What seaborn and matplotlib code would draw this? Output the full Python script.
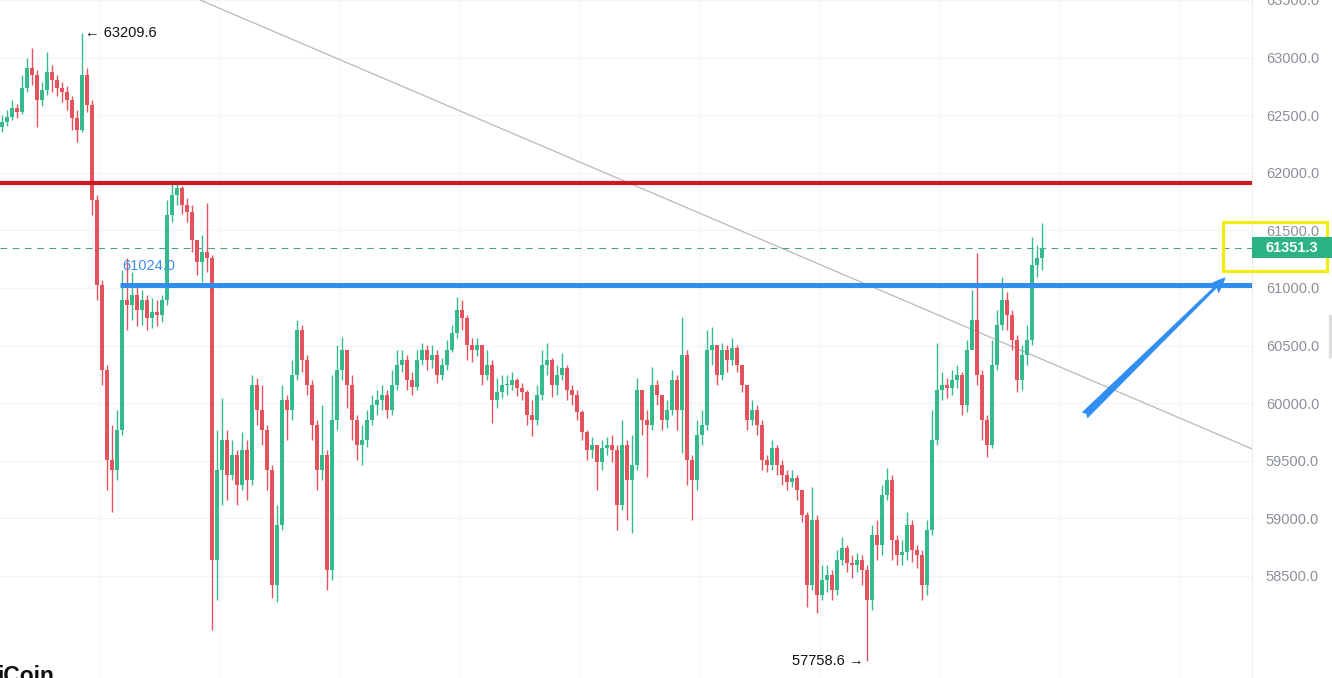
import numpy as np
import pandas as pd
import matplotlib
matplotlib.use("Agg")
import matplotlib.pyplot as plt
import seaborn as sns
from matplotlib.patches import Rectangle
from matplotlib.transforms import blended_transform_factory

# --- candle data ---
first_open = 62400
closes = [
    62441, 62484, 62563, 62528, 62736, 62910, 62849, 62632, 62719, 62875,
    62806, 62736, 62701, 62632, 62476, 62372, 62849, 62589, 61764, 61026,
    60288, 59507, 59420, 59768, 60896, 60853, 60939, 60809, 60896, 60740,
    60792, 60766, 60896, 61634, 61807, 61868, 61721, 61660, 61417, 61226,
    61313, 61261, 58639, 59420, 59681, 59377, 59551, 59290, 59594, 59334,
    60158, 59941, 59768, 59420, 58422, 58943, 60028, 59941, 60245, 60636,
    60375, 60158, 59811, 59420, 59551, 58552, 59854, 60288, 60462, 60158,
    59854, 59637, 59681, 59854, 59985, 60028, 60071, 59941, 60158, 60332,
    60375, 60202, 60141, 60375, 60462, 60375, 60419, 60245, 60332, 60462,
    60610, 60809, 60740, 60505, 60462, 60505, 60245, 60332, 60028, 60097,
    60158, 60158, 60202, 60132, 60097, 59898, 59854, 60071, 60332, 60375,
    60158, 60245, 60306, 60115, 60071, 59924, 59750, 59594, 59637, 59490,
    59611, 59637, 59594, 59117, 59637, 59334, 59464, 60115, 59854, 59811,
    60158, 60071, 59854, 59941, 60202, 59941, 60419, 59507, 59334, 59724,
    59811, 60462, 60505, 60245, 60462, 60375, 60479, 60332, 60158, 59854,
    59941, 59811, 59507, 59464, 59611, 59464, 59377, 59316, 59351, 59247,
    59030, 58422, 58986, 58335, 58466, 58509, 58379, 58639, 58743, 58613,
    58596, 58639, 58552, 58292, 58856, 58769, 59203, 59334, 58813, 58683,
    58709, 58943, 58726, 58683, 58422, 58900, 59681, 60115, 60158, 60132,
    60202, 60245, 59985, 60462, 60722, 60245, 59854, 59637, 60332, 60679,
    60896, 60766, 60549, 60202, 60419, 60549, 61200, 61261, 61351.3,
]
highs = [
    62502, 62545, 62632, 62597, 62849, 62997, 63083, 62892, 62788, 63049,
    62936, 62849, 62788, 62754, 62667, 62545, 63209.6, 62910, 62632, 61807,
    61070, 60332, 59811, 59941, 61156, 61261, 61139, 61026, 60983, 60939,
    60913, 60896, 60939, 61764, 61920, 61912, 61886, 61781, 61721, 61417,
    61460, 61738, 61287, 59768, 60045, 59768, 59681, 59594, 59750, 59681,
    60245, 60219, 60158, 59811, 59464, 59117, 60158, 60071, 60375, 60722,
    60679, 60419, 60202, 59854, 59985, 59594, 60245, 60505, 60575, 60462,
    60245, 59898, 59811, 59941, 60071, 60115, 60158, 60115, 60288, 60462,
    60462, 60419, 60271, 60462, 60523, 60505, 60505, 60462, 60393, 60549,
    60679, 60922, 60896, 60766, 60566, 60566, 60505, 60462, 60375, 60219,
    60245, 60245, 60271, 60219, 60176, 60115, 60028, 60158, 60462, 60523,
    60393, 60332, 60436, 60332, 60158, 60115, 59941, 59768, 59707, 59637,
    59681, 59707, 59724, 59637, 59854, 59681, 59724, 60219, 60071, 59941,
    60314, 60202, 60071, 60028, 60288, 60245, 60748, 60462, 59551, 59854,
    59941, 60636, 60662, 60505, 60523, 60505, 60566, 60505, 60332, 60158,
    60028, 59985, 59854, 59551, 59681, 59637, 59507, 59420, 59420, 59377,
    59247, 59056, 59273, 59030, 58596, 58596, 58552, 58726, 58839, 58769,
    58683, 58700, 58683, 58596, 58943, 58986, 59290, 59438, 59377, 58856,
    58813, 59056, 58986, 58769, 58726, 58986, 59941, 60523, 60271, 60219,
    60288, 60332, 60271, 60549, 60983, 61304, 60288, 59898, 60549, 60809,
    61096, 60965, 60809, 60592, 60505, 60679, 61443, 61373, 61564,
]
lows = [
    62354, 62406, 62458, 62476, 62510, 62701, 62762, 62398, 62580, 62675,
    62701, 62667, 62615, 62545, 62372, 62267, 62354, 62528, 61634, 60896,
    60158, 59247, 59056, 59334, 59724, 60636, 60722, 60670, 60679, 60636,
    60653, 60670, 60705, 60853, 61573, 61721, 61642, 61573, 61313, 61113,
    61052, 61139, 58032, 58292, 59117, 59160, 59334, 59117, 59247, 59160,
    59290, 59811, 59637, 59247, 58309, 58275, 58900, 59681, 59854, 60202,
    60271, 60071, 59681, 59247, 59334, 58379, 58466, 59768, 60202, 59959,
    59681, 59507, 59464, 59620, 59811, 59898, 59941, 59872, 59898, 60115,
    60271, 60115, 60071, 60115, 60332, 60288, 60306, 60176, 60202, 60288,
    60445, 60566, 60636, 60375, 60358, 60410, 60158, 60202, 59828, 59959,
    60045, 60071, 60115, 60063, 60028, 59811, 59716, 59811, 60028, 60245,
    60054, 60071, 60202, 60028, 59985, 59854, 59681, 59507, 59525, 59247,
    59420, 59551, 59490, 58900, 59073, 58986, 58874, 59420, 59724, 59360,
    59768, 59985, 59768, 59785, 59898, 59768, 59568, 59290, 58986, 59247,
    59637, 59768, 60332, 60158, 60202, 60271, 60332, 60271, 60097, 59768,
    59811, 59724, 59420, 59403, 59420, 59377, 59290, 59247, 59273, 59160,
    58969, 58231, 58379, 58179, 58292, 58361, 58292, 58335, 58596, 58535,
    58483, 58535, 58422, 57758.6, 58205, 58639, 58683, 59160, 58639, 58596,
    58596, 58639, 58622, 58570, 58292, 58335, 58856, 59637, 60028, 60045,
    60071, 60132, 59898, 59924, 60505, 60158, 59681, 59533, 59611, 60288,
    60636, 60636, 60462, 60097, 60115, 60332, 60505, 61096, 61156,
]

# key levels and drawings
resistance = 61911
support = 61024.0
last_price = 61351.3
y_ticks = [58500, 59000, 59500, 60000, 60500, 61000, 61500, 62000, 62500, 63000, 63500]
trend_x = [39.6, 250]
trend_y = [63500, 59603]
arrow_tail = (216.2, 59880)
arrow_head = (245.0, 61104)

df = pd.DataFrame({"close": closes, "high": highs, "low": lows})
df["open"] = [first_open] + closes[:-1]
df["i"] = np.arange(len(df))
df["up"] = df["close"] >= df["open"]

UP = "#35bb8b"
DOWN = "#e4525e"

sns.set_theme(style="white")
plt.rcParams["font.family"] = ["Liberation Sans", "DejaVu Sans"]

fig = plt.figure(figsize=(13.32, 6.78), dpi=100)
ax = fig.add_axes([0, 0, 1252 / 1332, 1])
ax.set_xlim(-0.4, 250)
ax.set_ylim(57614, 63499)

# faint grid
ax.set_xticks(np.arange(19.6, 250, 24))
ax.set_yticks(y_ticks)
ax.grid(True, color="#f4f4f4", linewidth=0.8)
ax.set_axisbelow(True)

# candles
colors = np.where(df["up"], UP, DOWN)
ax.vlines(df["i"], df["low"], df["high"], colors=colors, linewidth=1.0, zorder=2)
body_lo = np.minimum(df["open"], df["close"])
body_h = np.maximum(np.abs(df["close"] - df["open"]), 8)
ax.bar(df["i"], body_h, bottom=body_lo, width=0.62, color=colors, linewidth=0, zorder=3)

# trend line
sns.lineplot(x=trend_x, y=trend_y, ax=ax, color="#b9b9b9", linewidth=0.9, zorder=1)

# horizontal levels
ax.axhline(resistance, color="#cc1820", linewidth=3.0, zorder=4)
ax.hlines(support, 23.6, 250, color="#2f8ef0", linewidth=3.6, zorder=4)
ax.axhline(last_price, color="#4f9e90", linewidth=0.8, linestyle=(0, (6, 5)), zorder=1)
ax.text(24.0, 61191, f"{support:.1f}", color="#3b8fe8", fontsize=10.5, va="center", ha="left")

# high / low markers
ax.text(16.6, 63214, "\u2190 63209.6", fontsize=10.5, color="#111111", va="center", ha="left")
ax.text(172.2, 57760, "57758.6 \u2192", fontsize=10.5, color="#111111", va="center", ha="right")

# blue arrow
ax.annotate("", xy=arrow_head, xytext=arrow_tail,
            arrowprops=dict(arrowstyle="fancy,head_length=0.9,head_width=0.7,tail_width=0.45",
                            color="#2f8ef0", lw=0.5), annotation_clip=False, zorder=6)

# yellow highlight box
ax.add_patch(Rectangle((244.2, 61148), 20.8, 425, fill=False, edgecolor="#f2ec16",
                       linewidth=2.3, clip_on=False, zorder=7))

# price axis on the right
ax.yaxis.tick_right()
ax.set_yticklabels([f"{v:.1f}" for v in y_ticks])
ax.tick_params(axis="y", length=0, pad=10, labelsize=10.5, labelcolor="#8b9099")
ax.tick_params(axis="x", length=0, labelbottom=False)
for s in ["top", "bottom", "left"]:
    ax.spines[s].set_visible(False)
ax.spines["right"].set_color("#eeeeee")
ax.spines["right"].set_linewidth(0.8)

# last price tag
tr = blended_transform_factory(ax.transAxes, ax.transData)
ax.add_patch(Rectangle((1.0, last_price - 95), 0.07, 190, transform=tr, fc="#2bb383",
                       ec="none", clip_on=False, zorder=8))
ax.text(1.0105, last_price, "61351.3", transform=tr, ha="left", va="center",
        color="white", fontsize=10.5, fontweight="bold", zorder=9, clip_on=False)

# watermark + scrollbar
fig.text(-0.002, -0.008, "iCoin", fontsize=16.5, fontweight="bold", color="#111111",
         ha="left", va="baseline")
fig.patches.append(Rectangle((1329 / 1332, 1 - 357 / 678), 3 / 1332, 42 / 678,
                             transform=fig.transFigure, color="#dddddd"))

fig.savefig("out.png", dpi=100)
